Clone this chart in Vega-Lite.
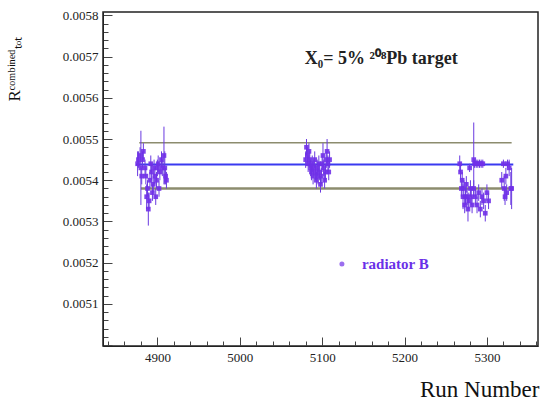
{
  "$schema": "https://vega.github.io/schema/vega-lite/v6.json",
  "width": 435,
  "height": 334,
  "autosize": {"type": "none"},
  "padding": {"left": 103, "top": 12, "right": 4, "bottom": 56},
  "background": "white",
  "config": {
    "view": {"stroke": "#222", "strokeWidth": 1.5},
    "font": "Liberation Serif",
    "axis": {"labelFont": "Liberation Serif", "titleFont": "Liberation Serif", "labelColor": "#222", "titleColor": "#111", "domainColor": "#222", "tickColor": "#444", "grid": false, "labelOverlap": false}
  },
  "datasets": {
    "pts": [
      {"run": 4876, "r": 0.00544, "e": 0.00003},
      {"run": 4877, "r": 0.00545, "e": 0.00002},
      {"run": 4879, "r": 0.00546, "e": 0.00002},
      {"run": 4880, "r": 0.00543, "e": 0.00009},
      {"run": 4881, "r": 0.00541, "e": 0.00002},
      {"run": 4882, "r": 0.00545, "e": 0.00002},
      {"run": 4883, "r": 0.00547, "e": 0.00002},
      {"run": 4885, "r": 0.00543, "e": 0.00002},
      {"run": 4886, "r": 0.00541, "e": 0.00002},
      {"run": 4887, "r": 0.00536, "e": 0.00003},
      {"run": 4888, "r": 0.00538, "e": 0.00002},
      {"run": 4889, "r": 0.00533, "e": 0.00004},
      {"run": 4890, "r": 0.00535, "e": 0.00002},
      {"run": 4891, "r": 0.0054, "e": 0.00002},
      {"run": 4892, "r": 0.00544, "e": 0.00002},
      {"run": 4893, "r": 0.00542, "e": 0.00002},
      {"run": 4894, "r": 0.00537, "e": 0.00002},
      {"run": 4895, "r": 0.00539, "e": 0.00002},
      {"run": 4896, "r": 0.00543, "e": 0.00002},
      {"run": 4897, "r": 0.00541, "e": 0.00002},
      {"run": 4898, "r": 0.00536, "e": 0.00002},
      {"run": 4899, "r": 0.0054, "e": 0.00002},
      {"run": 4900, "r": 0.00543, "e": 0.00002},
      {"run": 4901, "r": 0.00544, "e": 0.00002},
      {"run": 4902, "r": 0.00538, "e": 0.00002},
      {"run": 4903, "r": 0.00542, "e": 0.00002},
      {"run": 4905, "r": 0.00545, "e": 0.00002},
      {"run": 4906, "r": 0.00543, "e": 0.00002},
      {"run": 4908, "r": 0.00546, "e": 0.00007},
      {"run": 4909, "r": 0.00543, "e": 0.00004},
      {"run": 4910, "r": 0.00541, "e": 0.00002},
      {"run": 4911, "r": 0.0054, "e": 0.00002},
      {"run": 5080, "r": 0.00545, "e": 0.00002},
      {"run": 5081, "r": 0.00548, "e": 0.00002},
      {"run": 5082, "r": 0.00546, "e": 0.00002},
      {"run": 5083, "r": 0.00544, "e": 0.00002},
      {"run": 5084, "r": 0.00547, "e": 0.00002},
      {"run": 5085, "r": 0.00545, "e": 0.00002},
      {"run": 5086, "r": 0.00543, "e": 0.00002},
      {"run": 5087, "r": 0.00542, "e": 0.00002},
      {"run": 5088, "r": 0.00544, "e": 0.00002},
      {"run": 5089, "r": 0.00541, "e": 0.00002},
      {"run": 5090, "r": 0.00543, "e": 0.00002},
      {"run": 5091, "r": 0.00545, "e": 0.00002},
      {"run": 5092, "r": 0.00542, "e": 0.00002},
      {"run": 5093, "r": 0.0054, "e": 0.00002},
      {"run": 5094, "r": 0.00543, "e": 0.00002},
      {"run": 5095, "r": 0.00541, "e": 0.00002},
      {"run": 5096, "r": 0.00544, "e": 0.00002},
      {"run": 5097, "r": 0.00542, "e": 0.00002},
      {"run": 5098, "r": 0.00539, "e": 0.00002},
      {"run": 5099, "r": 0.00541, "e": 0.00002},
      {"run": 5100, "r": 0.00544, "e": 0.00002},
      {"run": 5101, "r": 0.00546, "e": 0.00003},
      {"run": 5102, "r": 0.00543, "e": 0.00002},
      {"run": 5103, "r": 0.0054, "e": 0.00002},
      {"run": 5104, "r": 0.00542, "e": 0.00002},
      {"run": 5105, "r": 0.00545, "e": 0.00002},
      {"run": 5106, "r": 0.00547, "e": 0.00003},
      {"run": 5107, "r": 0.00544, "e": 0.00002},
      {"run": 5108, "r": 0.00542, "e": 0.00002},
      {"run": 5109, "r": 0.00545, "e": 0.00002},
      {"run": 5267, "r": 0.00544, "e": 0.00002},
      {"run": 5268, "r": 0.00542, "e": 0.00002},
      {"run": 5269, "r": 0.00538, "e": 0.00002},
      {"run": 5270, "r": 0.0054, "e": 0.00002},
      {"run": 5271, "r": 0.00536, "e": 0.00003},
      {"run": 5272, "r": 0.00538, "e": 0.00002},
      {"run": 5273, "r": 0.00534, "e": 0.00002},
      {"run": 5274, "r": 0.00536, "e": 0.00002},
      {"run": 5275, "r": 0.00539, "e": 0.00002},
      {"run": 5276, "r": 0.00536, "e": 0.00002},
      {"run": 5277, "r": 0.00533, "e": 0.00003},
      {"run": 5278, "r": 0.00535, "e": 0.00002},
      {"run": 5279, "r": 0.00543, "e": 0.00001},
      {"run": 5280, "r": 0.00538, "e": 0.00002},
      {"run": 5281, "r": 0.00536, "e": 0.00002},
      {"run": 5282, "r": 0.00534, "e": 0.00002},
      {"run": 5284, "r": 0.00545, "e": 0.00009},
      {"run": 5284, "r": 0.00538, "e": 0.00002},
      {"run": 5285, "r": 0.00544, "e": 0.00001},
      {"run": 5286, "r": 0.00536, "e": 0.00002},
      {"run": 5287, "r": 0.00544, "e": 0.00001},
      {"run": 5288, "r": 0.00534, "e": 0.00002},
      {"run": 5289, "r": 0.00544, "e": 0.00001},
      {"run": 5290, "r": 0.00537, "e": 0.00002},
      {"run": 5291, "r": 0.00544, "e": 0.00001},
      {"run": 5292, "r": 0.00533, "e": 0.00002},
      {"run": 5293, "r": 0.00544, "e": 0.00001},
      {"run": 5294, "r": 0.00536, "e": 0.00002},
      {"run": 5295, "r": 0.00544, "e": 0.00001},
      {"run": 5296, "r": 0.00535, "e": 0.00002},
      {"run": 5298, "r": 0.00532, "e": 0.00002},
      {"run": 5300, "r": 0.00537, "e": 0.00002},
      {"run": 5302, "r": 0.00535, "e": 0.00002},
      {"run": 5318, "r": 0.0054, "e": 0.00002},
      {"run": 5320, "r": 0.00544, "e": 0.00001},
      {"run": 5321, "r": 0.00538, "e": 0.00003},
      {"run": 5322, "r": 0.00536, "e": 0.00002},
      {"run": 5323, "r": 0.00541, "e": 0.00002},
      {"run": 5324, "r": 0.00537, "e": 0.00002},
      {"run": 5325, "r": 0.00544, "e": 0.00001},
      {"run": 5327, "r": 0.00543, "e": 0.00002},
      {"run": 5329, "r": 0.00538, "e": 0.00004},
      {"run": 5330, "r": 0.00538, "e": 0.00005}
    ],
    "levels": [
      {"x1": 4878, "x2": 5330, "y": 0.005491, "kind": "upper"},
      {"x1": 4874, "x2": 5332, "y": 0.005438, "kind": "mean"},
      {"x1": 4880, "x2": 5330, "y": 0.00538, "kind": "lower"}
    ],
    "notes": [
      {"run": 5079, "r": 0.005695, "t": "X₀= 5% ²⁰⁸Pb target"}
    ],
    "legend": [
      {"run": 5124, "r": 0.005197, "t": "radiator B"}
    ]
  },
  "layer": [
    {
      "data": {"name": "levels"},
      "mark": {"type": "rule"},
      "encoding": {
        "x": {"field": "x1", "type": "quantitative", "title": "Run Number", "scale": {"domain": [4834, 5362], "nice": false, "zero": false},
          "axis": {
            "values": [4840,4860,4880,4900,4920,4940,4960,4980,5000,5020,5040,5060,5080,5100,5120,5140,5160,5180,5200,5220,5240,5260,5280,5300,5320,5340,5360],
            "tickCount": 200,
            "labelExpr": "datum.value % 100 == 0 ? format(datum.value, 'd') : ''",
            "tickSize": {"condition": {"test": "datum.value % 100 == 0", "value": -9}, "value": -5},
            "labelPadding": 14,
            "labelFontSize": 13,
            "labelFont": "Liberation Serif",
            "labelOverlap": false,
            "labelBound": false,
            "domain": true,
            "titleFont": "Liberation Serif",
            "titleFontSize": 23,
            "titleFontWeight": "normal",
            "titleAnchor": "end",
            "titleAlign": "right",
            "titleX": 436,
            "titleY": 50,
            "titleBaseline": "alphabetic"
          }},
        "x2": {"field": "x2"},
        "y": {"field": "y", "type": "quantitative", "title": "Rᶜᵒᵐᵇⁱⁿᵉᵈₜₒₜ", "scale": {"domain": [0.004998, 0.005808], "nice": false, "zero": false},
          "axis": {
            "values": [0.005,0.00502,0.00504,0.00506,0.00508,0.0051,0.00512,0.00514,0.00516,0.00518,0.0052,0.00522,0.00524,0.00526,0.00528,0.0053,0.00532,0.00534,0.00536,0.00538,0.0054,0.00542,0.00544,0.00546,0.00548,0.0055,0.00552,0.00554,0.00556,0.00558,0.0056,0.00562,0.00564,0.00566,0.00568,0.0057,0.00572,0.00574,0.00576,0.00578,0.0058],
            "tickCount": 200,
            "labelExpr": "(abs(datum.value*10000 - round(datum.value*10000)) < 0.001 && datum.value > 0.00505) ? format(datum.value, '.4f') : ''",
            "tickSize": {"condition": {"test": "abs(datum.value*10000 - round(datum.value*10000)) < 0.001", "value": -9}, "value": -5},
            "labelPadding": 14,
            "labelFontSize": 13,
            "labelFont": "Liberation Serif",
            "labelOverlap": false,
            "labelBound": false,
            "titleFont": "Liberation Serif",
            "titleFontSize": 17,
            "titleFontWeight": "normal",
            "titleAngle": -90,
            "titleAnchor": "end",
            "titleX": -80,
            "titleY": 24,
            "titleAlign": "right"
          }},
        "color": {"field": "kind", "type": "nominal", "scale": {"domain": ["upper", "mean", "lower"], "range": ["#8c8c6e", "#3a3af0", "#8c8c6e"]}, "legend": null},
        "strokeWidth": {"field": "kind", "type": "nominal", "scale": {"domain": ["upper", "mean", "lower"], "range": [1.5, 2.5, 1.5]}, "legend": null}
      }
    },
    {
      "data": {"name": "pts"},
      "mark": {"type": "errorbar", "color": "#6a3ae0", "thickness": 1},
      "encoding": {
        "x": {"field": "run", "type": "quantitative", "title": "Run Number"},
        "y": {"field": "r", "type": "quantitative", "title": "Rᶜᵒᵐᵇⁱⁿᵉᵈₜₒₜ"},
        "yError": {"field": "e"}
      }
    },
    {
      "data": {"name": "pts"},
      "mark": {"type": "point", "filled": true, "shape": "square", "size": 22, "color": "#7030e8", "opacity": 0.9},
      "encoding": {
        "x": {"field": "run", "type": "quantitative", "title": "Run Number"},
        "y": {"field": "r", "type": "quantitative", "title": "Rᶜᵒᵐᵇⁱⁿᵉᵈₜₒₜ"}
      }
    },
    {
      "data": {"name": "notes"},
      "mark": {"type": "text", "align": "left", "baseline": "middle", "font": "Liberation Serif", "fontSize": 18, "fontWeight": "bold", "color": "#222"},
      "encoding": {
        "x": {"field": "run", "type": "quantitative", "title": "Run Number"},
        "y": {"field": "r", "type": "quantitative", "title": "Rᶜᵒᵐᵇⁱⁿᵉᵈₜₒₜ"},
        "text": {"field": "t"}
      }
    },
    {
      "data": {"name": "legend"},
      "mark": {"type": "point", "filled": true, "size": 25, "color": "#7030e8"},
      "encoding": {
        "x": {"field": "run", "type": "quantitative", "title": "Run Number"},
        "y": {"field": "r", "type": "quantitative", "title": "Rᶜᵒᵐᵇⁱⁿᵉᵈₜₒₜ"}
      }
    },
    {
      "data": {"name": "legend"},
      "mark": {"type": "text", "align": "left", "baseline": "middle", "dx": 20, "font": "Liberation Serif", "fontSize": 15, "fontWeight": "bold", "color": "#6a30e8"},
      "encoding": {
        "x": {"field": "run", "type": "quantitative", "title": "Run Number"},
        "y": {"field": "r", "type": "quantitative", "title": "Rᶜᵒᵐᵇⁱⁿᵉᵈₜₒₜ"},
        "text": {"field": "t"}
      }
    }
  ]
}
